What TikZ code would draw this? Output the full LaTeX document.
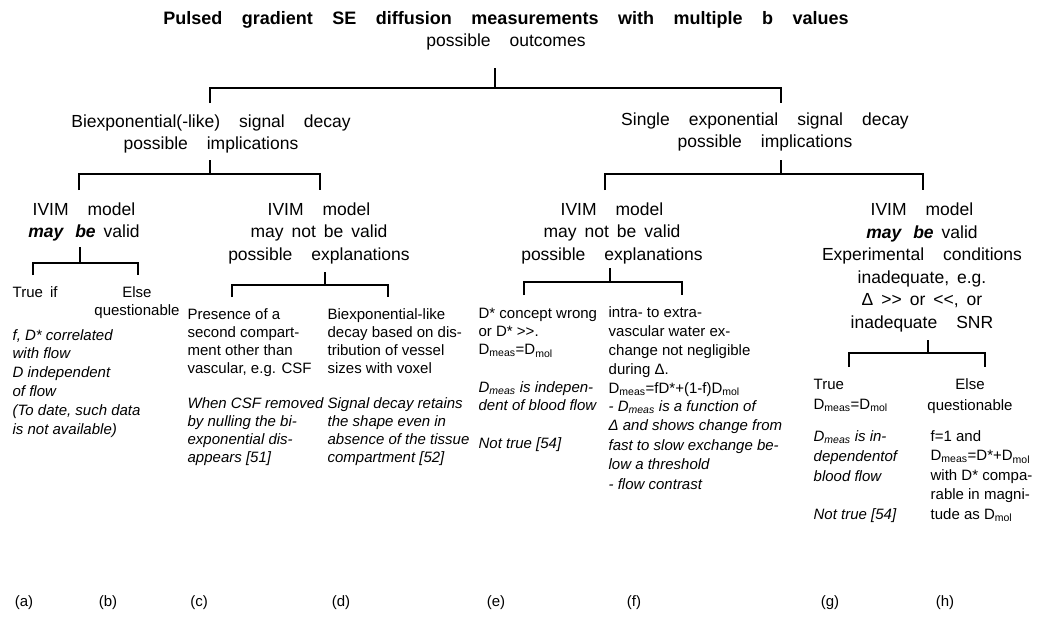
\documentclass[tikz,border=0pt]{standalone}
\usepackage{fontspec}
\setmainfont{Liberation Sans}
\usetikzlibrary{positioning}
\newcommand{\wsp}{\hspace{19pt}}
\newcommand{\Dmeas}{D\textsubscript{meas}}
\newcommand{\Dmol}{D\textsubscript{mol}}
\newcommand{\grgr}{>\kern0pt>}
\newcommand{\lsls}{<\kern0pt<}

\begin{document}
\begin{tikzpicture}[x=1pt,y=-1pt,line width=1.3pt,
   hd/.style={align=center,anchor=base,inner sep=0pt,font={\fontsize{17.5}{22.5}\selectfont\spaceskip=8pt\relax}},
   txt/.style={align=left,anchor=base west,inner sep=0pt,font={\fontsize{15}{18.3}\selectfont}},
   ittxt/.style={txt,font={\fontsize{15}{18.3}\selectfont\itshape}},
   lab/.style={anchor=base,inner sep=0pt,font={\fontsize{15}{17}\selectfont}}]
  \useasboundingbox (0,0) rectangle (1051,622);
  \node[hd] (root) at (506,46.5) {{\bfseries\fontsize{18}{22.5}\selectfont\spaceskip=19.5pt\relax Pulsed gradient SE diffusion measurements with multiple b values}\\possible\wsp outcomes};
  \node[hd] (biexp) at (211,149.5) {Biexponential(-like)\wsp signal\wsp decay\\possible\wsp implications};
  \node[hd] (single) at (765,147.5) {Single\wsp exponential\wsp signal\wsp decay\\possible\wsp implications};
  \node[hd] (ivimA) at (84,237.5) {IVIM\wsp model\\\textbf{\textit{may\hspace{4pt} be}} valid};
  \node[hd] (ivimB) at (319,260) {IVIM\wsp model\\may not be valid\\possible\wsp explanations};
  \node[hd] (ivimC) at (612,260) {IVIM\wsp model\\may not be valid\\possible\wsp explanations};
  \node[hd] (ivimD) at (922,328) {IVIM\wsp model\\\textbf{\textit{may\hspace{4pt} be}} valid\\Experimental\wsp conditions\\inadequate, e.g.\\Δ \grgr{} or \lsls, or\\inadequate\wsp SNR};
  \coordinate (k0) at (495,68); \coordinate (j0) at (495,88); \coordinate (l0) at (210,103); \coordinate (r0) at (781,103);
  \coordinate (k1) at (210,160); \coordinate (j1) at (210,174); \coordinate (l1) at (79,190); \coordinate (r1) at (320,190);
  \coordinate (k2) at (781,160); \coordinate (j2) at (781,174); \coordinate (l2) at (605,190); \coordinate (r2) at (923,190);
  \coordinate (k3) at (80,247); \coordinate (j3) at (80,263); \coordinate (l3) at (33,275); \coordinate (r3) at (138,275);
  \coordinate (k4) at (325,272); \coordinate (j4) at (325,285); \coordinate (l4) at (232,297); \coordinate (r4) at (388,297);
  \coordinate (k5) at (610,268); \coordinate (j5) at (610,282); \coordinate (l5) at (524,295); \coordinate (r5) at (682,295);
  \coordinate (k6) at (928,340); \coordinate (j6) at (928,353); \coordinate (l6) at (849,367); \coordinate (r6) at (985,367);
  \draw (k0) -- (j0) (l0) |- (j0) -| (r0);
  \draw (k1) -- (j1) (l1) |- (j1) -| (r1);
  \draw (k2) -- (j2) (l2) |- (j2) -| (r2);
  \draw (k3) -- (j3) (l3) |- (j3) -| (r3);
  \draw (k4) -- (j4) (l4) |- (j4) -| (r4);
  \draw (k5) -- (j5) (l5) |- (j5) -| (r5);
  \draw (k6) -- (j6) (l6) |- (j6) -| (r6);
  \node[txt] (truea) at (12,297) {True\hspace{3pt} if};
  \node[txt,align=center,anchor=base] (elseb) at (137,315.3) {Else\\questionable};
  \node[ittxt,font={\fontsize{15}{18.8}\selectfont\itshape}] (itxa) at (12,434) {f, D* correlated\\with flow\\D independent\\of flow\\(To date, such data\\is not available)};
  \node[txt] (txtc) at (187,373.9) {Presence of a\\second compart-\\ment other than\\vascular, e.g. CSF};
  \node[ittxt] (itxc) at (187,462.9) {When CSF removed\\by nulling the bi-\\exponential dis-\\appears [51]};
  \node[txt] (txtd) at (327,373.9) {Biexponential-like\\decay based on dis-\\tribution of vessel\\sizes with voxel};
  \node[ittxt] (itxd) at (327,462.9) {Signal decay retains\\the shape even in\\absence of the tissue\\compartment [52]};
  \node[txt] (txte) at (478,354.6) {D* concept wrong\\or D* \grgr.\\\Dmeas=\Dmol};
  \node[ittxt] (itxe) at (478,410.3) {\Dmeas{} is indepen-\\dent of blood flow};
  \node[ittxt] (notte) at (478,448) {Not true [54]};
  \node[txt,font={\fontsize{15}{19}\selectfont}] (txtf) at (608,393) {intra- to extra-\\vascular water ex-\\change not negligible\\during Δ.\\\Dmeas=fD*+(1-f)\Dmol};
  \node[ittxt,font={\fontsize{15}{19.5}\selectfont\itshape}] (itxf) at (608,489) {- \Dmeas{} is a function of\\Δ and shows change from\\fast to slow exchange be-\\low a threshold\\- flow contrast};
  \node[txt,font={\fontsize{15}{20}\selectfont}] (txtg) at (813,409) {True\\\Dmeas=\Dmol};
  \node[ittxt,font={\fontsize{15}{20}\selectfont\itshape}] (itxg) at (813,481) {\Dmeas{} is in-\\dependentof\\blood flow};
  \node[ittxt] (nottg) at (813,519) {Not true [54]};
  \node[txt,align=center,anchor=base,font={\fontsize{15}{21}\selectfont}] (elseh) at (970,410) {Else\\questionable};
  \node[txt,font={\fontsize{15}{19.5}\selectfont}] (txth) at (930,519) {f=1 and\\\Dmeas=D*+\Dmol\\with D* compa-\\rable in magni-\\tude as \Dmol};
  \node[lab] (la) at (24,606) {(a)};
  \node[lab] (lb) at (108,606) {(b)};
  \node[lab] (lc) at (199,606) {(c)};
  \node[lab] (ld) at (341,606) {(d)};
  \node[lab] (le) at (496,606) {(e)};
  \node[lab] (lf) at (634,606) {(f)};
  \node[lab] (lg) at (830,606) {(g)};
  \node[lab] (lh) at (945,606) {(h)};
\end{tikzpicture}
\end{document}
